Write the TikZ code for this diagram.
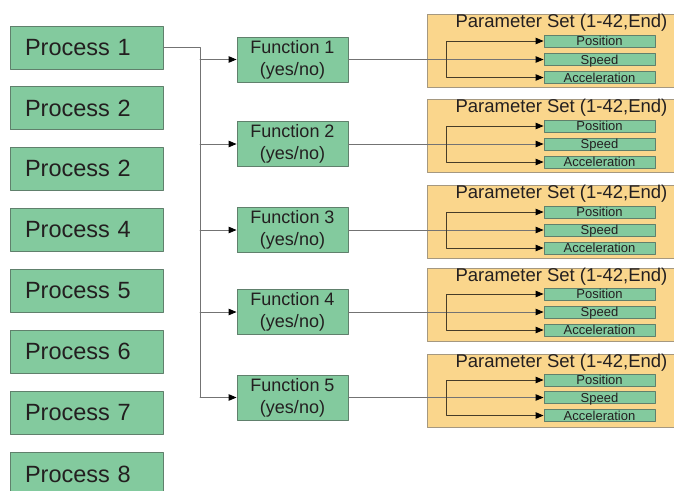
\documentclass[tikz,border=0pt]{standalone}
\usepackage{fontspec}
\setmainfont{Liberation Sans}
\usetikzlibrary{calc}
\usetikzlibrary{arrows.meta}

\begin{document}
\begin{tikzpicture}[line cap=round,line join=round,>={Triangle[length=8pt,width=6.5pt,black]},x=1pt,y=-1pt,
  procbox/.style={draw=boxedge,fill=boxgreen,line width=0.9pt,inner ysep=0pt,inner xsep=15pt,minimum height=43pt,text width=123pt,align=left,text=textdark,font=\fontsize{23.5}{26}\selectfont},
  funcbox/.style={draw=boxedge,fill=boxgreen,line width=0.9pt,inner sep=0pt,minimum width=111pt,minimum height=45pt,align=center,text=textdark,font=\fontsize{18}{22}\selectfont},
  setbox/.style={draw=setedge,fill=setyellow,line width=0.9pt,inner sep=0pt,minimum width=254pt,minimum height=73pt},
  settitle/.style={inner sep=0pt,text=textdark,font=\fontsize{18.5}{20}\selectfont},
  parbox/.style={draw=boxedge,fill=boxgreen,line width=0.9pt,inner sep=0pt,minimum width=111pt,minimum height=12pt,text height=10.5pt,text depth=1.5pt,text=textdark,font=\fontsize{13}{13}\selectfont},
  link/.style={draw=linegrey,line width=0.9pt},
  sublink/.style={draw=linedark,line width=0.9pt}]
\definecolor{boxgreen}{RGB}{131,202,158}
\definecolor{boxedge}{RGB}{96,128,108}
\definecolor{setyellow}{RGB}{250,214,140}
\definecolor{setedge}{RGB}{165,152,128}
\definecolor{linegrey}{RGB}{115,115,115}
\definecolor{linedark}{RGB}{70,60,40}
\definecolor{textdark}{RGB}{35,31,32}
\useasboundingbox (0,0) rectangle (674,490);
\clip (0,0) rectangle (674,490);
% processes
\node[procbox] (p1) at (86.5,47.5) {Process 1};
\node[procbox] (p2) at (86.5,108) {Process 2};
\node[procbox] (p3) at (86.5,168.5) {Process 2};
\node[procbox] (p4) at (86.5,229.5) {Process 4};
\node[procbox] (p5) at (86.5,290.5) {Process 5};
\node[procbox] (p6) at (86.5,351.5) {Process 6};
\node[procbox] (p7) at (86.5,412.5) {Process 7};
\node[procbox] (p8) at (86.5,474) {Process 8};
% functions
\node[funcbox] (f1) at (292.5,59.5) {Function 1\\(yes/no)};
\node[funcbox] (f2) at (292.5,144) {Function 2\\(yes/no)};
\node[funcbox] (f3) at (292.5,230) {Function 3\\(yes/no)};
\node[funcbox] (f4) at (292.5,312) {Function 4\\(yes/no)};
\node[funcbox] (f5) at (292.5,397.5) {Function 5\\(yes/no)};
% parameter sets
\node[setbox] (ps1) at (554,51) {};
\node[settitle] (t1) at (561.5,23) {Parameter Set (1-42,End)};
\node[parbox] (pos1) at (599.5,41) {Position};
\node[parbox] (spd1) at (599.5,59.5) {Speed};
\node[parbox] (acc1) at (599.5,77.5) {Acceleration};
\node[setbox] (ps2) at (554,136) {};
\node[settitle] (t2) at (561.5,108) {Parameter Set (1-42,End)};
\node[parbox] (pos2) at (599.5,126) {Position};
\node[parbox] (spd2) at (599.5,144) {Speed};
\node[parbox] (acc2) at (599.5,162) {Acceleration};
\node[setbox] (ps3) at (554,222) {};
\node[settitle] (t3) at (561.5,194) {Parameter Set (1-42,End)};
\node[parbox] (pos3) at (599.5,212) {Position};
\node[parbox] (spd3) at (599.5,230) {Speed};
\node[parbox] (acc3) at (599.5,248) {Acceleration};
\node[setbox] (ps4) at (554,305) {};
\node[settitle] (t4) at (561.5,277) {Parameter Set (1-42,End)};
\node[parbox] (pos4) at (599.5,294) {Position};
\node[parbox] (spd4) at (599.5,312) {Speed};
\node[parbox] (acc4) at (599.5,330) {Acceleration};
\node[setbox] (ps5) at (554,391) {};
\node[settitle] (t5) at (561.5,363) {Parameter Set (1-42,End)};
\node[parbox] (pos5) at (599.5,380) {Position};
\node[parbox] (spd5) at (599.5,397.5) {Speed};
\node[parbox] (acc5) at (599.5,415.5) {Acceleration};
% connectors
\coordinate (trunk) at (200,47.5);
\draw[link] (p1.east) -- (trunk) -- (trunk |- f5.west);
\draw[link,->] (trunk |- f1.west) -- (f1.west);
\draw[link,->] (trunk |- f2.west) -- (f2.west);
\draw[link,->] (trunk |- f3.west) -- (f3.west);
\draw[link,->] (trunk |- f4.west) -- (f4.west);
\draw[link,->] (trunk |- f5.west) -- (f5.west);
\draw[link,->] (f1.east) -- (spd1.west);
\draw[link,->] (f2.east) -- (spd2.west);
\draw[link,->] (f3.east) -- (spd3.west);
\draw[link,->] (f4.east) -- (spd4.west);
\draw[link,->] (f5.east) -- (spd5.west);
\coordinate (br1) at (446,59.5);
\coordinate (br2) at (446,144);
\coordinate (br3) at (446,230);
\coordinate (br4) at (446,312);
\coordinate (br5) at (446,397.5);
\draw[sublink,->] (br1) |- (pos1.west);
\draw[sublink,->] (br1) |- (acc1.west);
\draw[sublink,->] (br2) |- (pos2.west);
\draw[sublink,->] (br2) |- (acc2.west);
\draw[sublink,->] (br3) |- (pos3.west);
\draw[sublink,->] (br3) |- (acc3.west);
\draw[sublink,->] (br4) |- (pos4.west);
\draw[sublink,->] (br4) |- (acc4.west);
\draw[sublink,->] (br5) |- (pos5.west);
\draw[sublink,->] (br5) |- (acc5.west);
\end{tikzpicture}
\end{document}
